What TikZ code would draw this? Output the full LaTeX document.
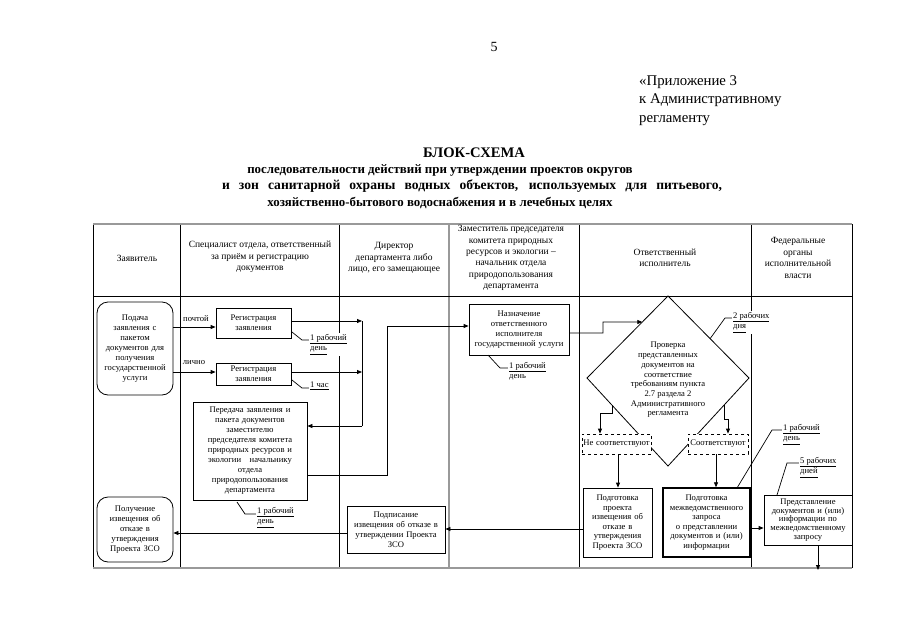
\documentclass[tikz,border=0pt]{standalone}
\usepackage{fontspec}
\setmainfont{Liberation Serif}
\usetikzlibrary{arrows.meta,calc}
\begin{document}
\begin{tikzpicture}[x=1pt,y=-1pt,
  box/.style={draw, line width=0.8pt, fill=white, inner sep=1pt, align=center, font=\fontsize{8.6}{10}\selectfont},
  rbox/.style={box, rounded corners=11pt},
  dbox/.style={box, dashed},
  hdr/.style={align=center, font=\fontsize{9.5}{11.4}\selectfont},
  ttl/.style={inner sep=0pt, font=\fontsize{12.9}{16.5}\selectfont\bfseries},
  cal/.style={fill=white, inner sep=1pt, align=left, anchor=north west, font=\fontsize{8.6}{10.5}\selectfont},
  lbl/.style={inner sep=1pt, font=\fontsize{8.6}{10}\selectfont},
  arr/.style={-{Triangle[length=5pt,width=4pt]}, line width=0.8pt},
  ln/.style={line width=0.7pt},
  grid/.style={line width=0.7pt},
  gline/.style={line width=1.8pt, draw=black!40}]
\useasboundingbox (0,0) rectangle (905,640);
\fill[white] (0,0) rectangle (905,640);

% page header
\node[font=\fontsize{14}{17}\selectfont] (pn) at (494,47) {5};
\node[anchor=north west, align=left, inner sep=0pt, font=\fontsize{14.8}{18.5}\selectfont] (app) at (639,75) {«Приложение 3\\к Административному\\регламенту};
\node[ttl, font=\fontsize{14.6}{16.5}\selectfont\bfseries] (t1) at (474,153) {БЛОК-СХЕМА};
\node[ttl] (t2) at (440,170) {последовательности действий при утверждении проектов округов};
\node[ttl, font=\fontsize{13.6}{16.5}\selectfont\bfseries] (t3) at (472,186.5) {\makebox[500pt][s]{и зон санитарной охраны водных объектов, используемых для питьевого,}};
\node[ttl] (t4) at (440,203) {хозяйственно-бытового водоснабжения и в лечебных целях};

% table
\draw[grid] (93,224) -- (93,568);
\draw[grid] (852,224) -- (852,568);
\draw[grid] (180,224) -- (180,568);
\draw[grid] (339,224) -- (339,568);
\draw[grid] (579,224) -- (579,568);
\draw[grid] (751,224) -- (751,568);
\draw[line width=1.5pt, draw=black!40] (449,224) -- (449,568);
\draw[grid] (93,296) -- (852,296);
\draw[gline] (93,224) -- (852,224);
\draw[gline] (93,568) -- (852,568);

\node[hdr] (h1) at (137,258) {Заявитель};
\node[hdr] (h2) at (260,257) {Специалист отдела, ответственный\\за приём и регистрацию\\документов};
\node[hdr] (h3) at (394,258) {Директор\\департамента либо\\лицо, его замещающее};
\node[hdr] (h4) at (511,258) {Заместитель председателя\\комитета природных\\ресурсов и экологии –\\начальник отдела\\природопользования\\департамента};
\node[hdr] (h5) at (665,258) {Ответственный\\исполнитель};
\node[hdr] (h6) at (798,258) {Федеральные\\органы\\исполнительной\\власти};

% boxes
\node[rbox, minimum width=76, minimum height=93, text width=74] (n1) at (135,348.5) {Подача\\заявления с\\пакетом\\документов для\\получения\\государственной\\услуги};
\node[box, minimum width=75, minimum height=30, text width=71] (r1) at (253.5,323) {Регистрация\\заявления};
\node[box, minimum width=75, minimum height=22, text width=71] (r2) at (253.5,374) {Регистрация\\заявления};
\node[box, minimum width=114, minimum height=98, text width=110] (p) at (250,451) {Передача заявления и\\пакета документов\\заместителю\\председателя комитета\\природных ресурсов и\\экологии\enspace\enspace начальнику\\отдела\\природопользования\\департамента};
\node[box, minimum width=100, minimum height=51, text width=98] (nz) at (519,329.5) {Назначение\\ответственного\\исполнителя\\государственной услуги};

% diamond
\coordinate (dt) at (668,296);
\coordinate (dr) at (749,378);
\coordinate (db) at (668,466);
\coordinate (dl) at (587,378);
\draw[line width=0.8pt] (dt) -- (dr) -- (db) -- (dl) -- cycle;
\node[align=center, inner sep=0pt, font=\fontsize{8.6}{9.7}\selectfont] (d) at (668,380) {Проверка\\представленных\\документов на\\соответствие\\требованиям пункта\\2.7 раздела 2\\Административного\\регламента};

\node[dbox, minimum width=69, minimum height=20, text width=67] (ns) at (616.5,444) {Не соответствуют};
\node[dbox, minimum width=60, minimum height=20, text width=58] (s) at (718,444) {Соответствуют};

\node[box, minimum width=69, minimum height=69, text width=67, font=\fontsize{8.6}{9.5}\selectfont] (pp) at (617.5,522.5) {Подготовка\\проекта\\извещения об\\отказе в\\утверждения\\Проекта ЗСО};
\node[box, line width=1.4pt, minimum width=87, minimum height=69, text width=85, font=\fontsize{8.6}{9.5}\selectfont] (pm) at (706.5,522.5) {Подготовка\\межведомственного\\запроса\\о представлении\\документов и (или)\\информации};
\node[box, minimum width=88, minimum height=50, text width=86, font=\fontsize{8.6}{8.8}\selectfont] (pr) at (808,520) {Представление\\документов и (или)\\информации по\\межведомственному\\запросу};
\node[box, minimum width=98, minimum height=47, text width=96] (ps) at (396,529.5) {Подписание\\извещения об отказе в\\утверждении Проекта\\ЗСО};
\node[rbox, minimum width=76, minimum height=65, text width=74] (pg) at (135,529.5) {Получение\\извещения об\\отказе в\\утверждения\\Проекта ЗСО};

% labels
\node[lbl] (lp) at (196,319) {почтой};
\node[lbl] (ll) at (194,363) {лично};

% connectors
\coordinate (j1) at (362,321);
\coordinate (j2) at (362,372);
\coordinate (j3) at (362,426);
\draw[arr] (n1.east |- 0,327) -- (r1.west |- 0,327);
\draw[arr] (n1.east |- 0,372) -- (r2.west |- 0,372);
\draw[arr] (r1.east |- j1) -- (j1);
\draw[arr] (r2.east |- j2) -- (j2);
\draw[line width=0.8pt] (j1) -- (j3);
\draw[arr] (j3) -- (p.east |- j3);
\draw[arr] (p.east |- 0,475) -- (387,475) -- (387,326) -- (nz.west |- 0,326);
\coordinate (din) at ($(dl)!0.683!(dt)$);
\draw[arr] (nz.east |- 0,333) -- (603,333) -- (603,322) -- (din);
\draw[arr] (612,405) -- (612,413) -- (600,413) -- (ns.north -| 600,0);
\draw[arr] (724,405) -- (724,419) -- (728,419) -- (s.north -| 728,0);
\draw[arr] (ns.south -| 618,0) -- (pp.north -| 618,0);
\draw[arr] (s.south -| 716,0) -- (pm.north -| 716,0);
\draw[arr] (pm.east |- 0,528) -- (pr.west |- 0,528);
\coordinate (pend) at (818,570);
\draw[arr] (pr.south -| pend) -- (pend);
\draw[arr] (pp.west |- 0,529) -- (ps.east |- 0,529);
\draw[arr] (ps.west |- 0,533) -- (pg.east |- 0,533);

% callouts
\draw[ln] (292,332) -- (302,340) -- (310,340);
\node[cal] (c1) at (309,333) {\underline{1 рабочий}\\\underline{день}};
\draw[ln] (292,380) -- (302,388) -- (310,388);
\node[cal] (c2) at (309,381) {\underline{1 час}};
\draw[ln] (237,502) -- (245,514) -- (257,514);
\node[cal] (c3) at (256,506) {\underline{1 рабочий}\\\underline{день}};
\draw[ln] (488,355) -- (500,368) -- (509,368);
\node[cal] (c4) at (508,361) {\underline{1 рабочий}\\день};
\draw[ln] ($(dt)!0.52!(dr)$) -- (725,318) -- (733,318);
\node[cal] (c5) at (732,311) {\underline{2 рабочих}\\\underline{дня}};
\draw[ln] (737,488) -- (772,430) -- (783,430);
\node[cal] (c6) at (782,423) {\underline{1 рабочий}\\\underline{день}};
\draw[ln] (777,495) -- (787,463) -- (800,463);
\node[cal] (c7) at (799,456) {\underline{5 рабочих}\\\underline{дней}};
\end{tikzpicture}
\end{document}
